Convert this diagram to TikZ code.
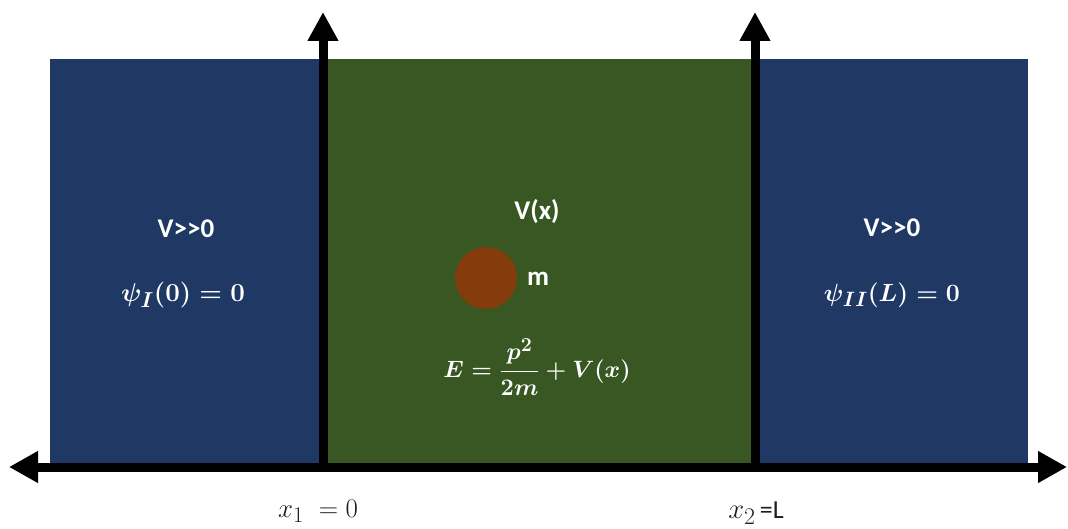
\documentclass[tikz,border=0pt]{standalone}
\usepackage{amsmath}
\usepackage{fontspec}
\setmainfont{Carlito}
\usetikzlibrary{arrows.meta}
\definecolor{wallblue}{RGB}{31,56,100}
\definecolor{wellgreen}{RGB}{56,87,35}
\definecolor{ballbrown}{RGB}{132,60,12}
\definecolor{labelgray}{RGB}{30,30,30}
\tikzset{
  region/.style={draw=none, inner sep=0pt, anchor=north west},
  axisline/.style={line width=9pt, black, -{Triangle[length=29pt,width=29pt]}},
  sanslabel/.style={text=white, font=\fontsize{27}{31}\selectfont\bfseries, inner sep=0pt},
  mathlabel/.style={text=white, font=\fontsize{24.88}{30}\selectfont\boldmath, inner sep=0pt},
  axislabel/.style={text=labelgray, font=\fontsize{24.88}{30}\selectfont, inner sep=0pt}
}
\begin{document}
\begin{tikzpicture}[x=1pt,y=-1pt]
\useasboundingbox (0,0) rectangle (1068,529);
% regions
\node[region, fill=wallblue, minimum width=275pt, minimum height=404pt] (leftwall) at (50,59) {};
\node[region, fill=wellgreen, minimum width=432pt, minimum height=404pt] (well) at (323,59) {};
\node[region, fill=wallblue, minimum width=275pt, minimum height=404pt] (rightwall) at (753,59) {};
% axes
\coordinate (xl) at (9,467);
\coordinate (xr) at (1067,467);
\draw[line width=9pt, {Triangle[length=29pt,width=30pt]}-{Triangle[length=29pt,width=30pt]}] (xl) -- (xr);
\coordinate (ya0) at (323,472);
\coordinate (ya1) at (323,12);
\coordinate (yb0) at (755,472);
\coordinate (yb1) at (755,12);
\draw[axisline] (ya0) -- (ya1);
\draw[axisline] (yb0) -- (yb1);
% texts
\node[sanslabel] (vl) at (186,229) {V>{}>0};
\node[mathlabel] (psil) at (183,295) {\scalebox{1.04}{$\psi_I(0)=0$}};
\node[sanslabel] (vr) at (892,228) {V>{}>0};
\node[mathlabel] (psir) at (892,295) {$\psi_{II}(L)=0$};
\node[sanslabel] (vx) at (537,212) {V(x)};
\node[circle, fill=ballbrown, minimum size=62pt, inner sep=0pt] (ball) at (486,278) {};
\node[sanslabel] (m) at (538,279) {m};
\node[mathlabel] (energy) at (537,367) {\scalebox{0.95}{$E=\dfrac{p^2}{2m}+V(x)$}};
\node[axislabel] (x1) at (318,511) {\scalebox{1.08}{$x_1\;=0$}};
\node[axislabel] (x2) at (756,513) {\scalebox{1.15}{$x_2$}\,\fontsize{26}{30}\selectfont=L};
\end{tikzpicture}
\end{document}
